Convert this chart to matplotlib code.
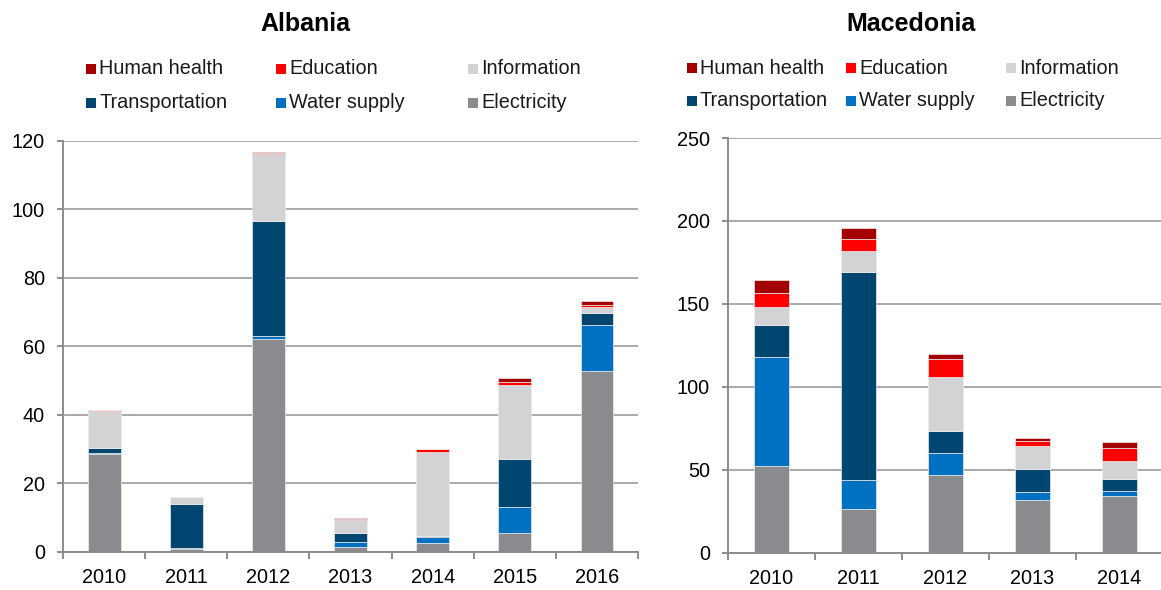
import matplotlib
matplotlib.use("Agg")
import matplotlib.pyplot as plt
from matplotlib.patches import Rectangle
import numpy as np

plt.rcParams['font.family'] = ['Liberation Sans', 'DejaVu Sans']

series = ["Human health", "Education", "Information",
          "Transportation", "Water supply", "Electricity"]
colors = {"Human health": "#A50000", "Education": "#FF0000",
          "Information": "#D3D3D5", "Transportation": "#004670",
          "Water supply": "#0070C0", "Electricity": "#898B8F"}
stack_order = ["Electricity", "Water supply", "Transportation",
               "Information", "Education", "Human health"]

alb_years = ["2010", "2011", "2012", "2013", "2014", "2015", "2016"]
alb_electricity = [28.6, 0.7, 62.1, 1.5, 2.6, 5.5, 52.8]
alb_water = [0.3, 0.5, 0.9, 1.2, 1.7, 7.6, 13.4]
alb_transport = [1.3, 12.7, 33.6, 2.8, 0.2, 14.1, 3.5]
alb_information = [11.0, 2.0, 19.5, 3.8, 24.7, 21.6, 1.7]
alb_education = [0.2, 0.1, 0.4, 0.3, 0.8, 0.8, 0.6]
alb_health = [0.0, 0.0, 0.3, 0.3, 0.1, 1.2, 1.2]

mkd_years = ["2010", "2011", "2012", "2013", "2014"]
mkd_electricity = [52.3, 26.5, 46.8, 31.6, 34.4]
mkd_water = [65.7, 17.1, 13.3, 4.8, 2.8]
mkd_transport = [19.2, 125.6, 13.4, 14.1, 7.4]
mkd_information = [10.9, 12.7, 32.6, 13.8, 10.9]
mkd_education = [8.2, 7.2, 10.7, 2.8, 7.6]
mkd_health = [7.9, 6.8, 2.8, 1.9, 3.8]

alb = {"Electricity": alb_electricity, "Water supply": alb_water,
       "Transportation": alb_transport, "Information": alb_information,
       "Education": alb_education, "Human health": alb_health}
mkd = {"Electricity": mkd_electricity, "Water supply": mkd_water,
       "Transportation": mkd_transport, "Information": mkd_information,
       "Education": mkd_education, "Human health": mkd_health}

W, H = 1161, 590
fig = plt.figure(figsize=(W / 100, H / 100), dpi=100)

GRID = "#A3A3A3"
SPINE = "#8C8C8C"
FS = 14.3


def draw(rect, years, data, ymax, ystep):
    ax = fig.add_axes(rect)
    x = np.arange(len(years))
    bottom = np.zeros(len(years))
    for name in stack_order:
        vals = np.array(data[name], dtype=float)
        ax.bar(x, vals, width=0.4, bottom=bottom, color=colors[name],
               edgecolor="#EDEDED", linewidth=0.5, zorder=3)
        bottom += vals
    ax.set_xlim(-0.5, len(years) - 0.5)
    ax.set_ylim(0, ymax)
    ax.set_yticks(np.arange(0, ymax + 1, ystep))
    ax.yaxis.grid(True, color=GRID, linewidth=1.3, zorder=0)
    ax.set_axisbelow(True)
    for s in ["top", "right"]:
        ax.spines[s].set_visible(False)
    for s in ["left", "bottom"]:
        ax.spines[s].set_color(SPINE)
        ax.spines[s].set_linewidth(1.4)
        ax.spines[s].set_zorder(4)
    ax.set_xticks(x)
    ax.set_xticklabels(years)
    ax.set_xticks(np.arange(-0.5, len(years)), minor=True)
    ax.tick_params(axis="x", which="major", length=0, pad=12, labelsize=FS)
    ax.tick_params(axis="x", which="minor", length=5, width=1.4, color=SPINE)
    ax.tick_params(axis="y", length=4, width=1.4, color=SPINE, pad=9,
                   labelsize=FS)
    return ax


def legend(x_cols, y_rows):
    sq = 10
    for i, name in enumerate(series):
        r, c = divmod(i, 3)
        xc, yc = x_cols[c], y_rows[r]
        fig.patches.append(Rectangle(((xc - sq / 2) / W, 1 - (yc + sq / 2) / H),
                                     sq / W, sq / H, transform=fig.transFigure,
                                     facecolor=colors[name], edgecolor="none"))
        fig.text((xc + sq / 2 + 3) / W, 1 - yc / H, name, fontsize=FS,
                 va="center", ha="left", color="#1a1a1a")


ax1 = draw([63 / W, (H - 551.7) / H, (638 - 63) / W, (551.7 - 141) / H],
           alb_years, alb, 120, 20)
ax2 = draw([728 / W, (H - 552.7) / H, 433 / W, (552.7 - 138) / H],
           mkd_years, mkd, 250, 50)
ax2.set_xlim(-0.5, 4.5 - 2 / 87)

fig.text(305 / W, 1 - 24 / H, "Albania", fontsize=18, fontweight="bold",
         ha="center", va="center")
fig.text(911 / W, 1 - 24 / H, "Macedonia", fontsize=18, fontweight="bold",
         ha="center", va="center")

legend([91, 281, 473], [69, 103])
legend([692, 851, 1011], [68, 101])

fig.savefig("out.png", dpi=100)
